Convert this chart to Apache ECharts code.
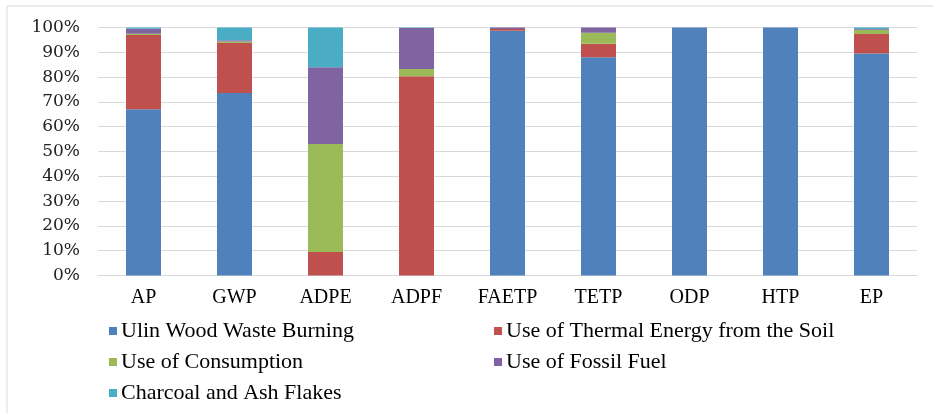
<!DOCTYPE html>
<html><head><meta charset="utf-8">
<script src="https://cdn.jsdelivr.net/npm/echarts@6/dist/echarts.min.js"></script>
<style>html,body{margin:0;padding:0;background:#fff}#c{width:933px;height:413px}</style>
</head><body><div id="c"></div>
<script>
const categories = ['AP','GWP','ADPE','ADPF','FAETP','TETP','ODP','HTP','EP'];
const seriesNames = ['Ulin Wood Waste Burning','Use of Thermal Energy from the Soil','Use of Consumption','Use of Fossil Fuel','Charcoal and Ash Flakes'];
const ulinWood = [67, 73.6, 0, 0, 98.7, 88, 100, 100, 89.5];
const thermalSoil = [30, 20.2, 9.5, 80.3, 0.7, 5.4, 0, 0, 7.9];
const consumption = [0.5, 0.6, 43.5, 3, 0, 4.5, 0, 0, 1.7];
const fossilFuel = [2, 0.5, 31, 16.5, 0.6, 2.1, 0, 0, 0.3];
const charcoalAsh = [0.5, 5.1, 16, 0.2, 0, 0, 0, 0, 0.6];
const yTicks = [0,10,20,30,40,50,60,70,80,90,100];
const colors = ['#4F81BD','#C0504D','#9BBB59','#8064A2','#4BACC6'];
const values = [ulinWood, thermalSoil, consumption, fossilFuel, charcoalAsh];

const chart = echarts.init(document.getElementById('c'));
const serif = 'Liberation Serif';
const legendText = {fontFamily:serif, fontSize:22, color:'#000', padding:[0,0,0,-1]};
chart.setOption({
  animation:false,
  color: colors,
  graphic:[{type:'rect', shape:{x:7,y:6,width:940,height:420}, style:{fill:'none', stroke:'#d9d9d9', lineWidth:1}, silent:true}],
  grid:{left:98, right:16, top:27.5, bottom:137.5},
  legend:[
    {left:104, top:315, orient:'vertical', itemGap:9, itemWidth:8, itemHeight:8, icon:'rect',
     textStyle:legendText, data:[seriesNames[0], seriesNames[2], seriesNames[4]]},
    {left:489, top:315, orient:'vertical', itemGap:9, itemWidth:8, itemHeight:8, icon:'rect',
     textStyle:legendText, data:[seriesNames[1], seriesNames[3]]}
  ],
  xAxis:{type:'category', data:categories,
    axisLine:{show:true, lineStyle:{color:'#d9d9d9'}}, axisTick:{show:false},
    axisLabel:{fontFamily:serif, fontSize:20, color:'#000', margin:12}},
  yAxis:{type:'value', min:yTicks[0], max:yTicks[yTicks.length-1], interval:10,
    axisLine:{show:false}, axisTick:{show:false},
    splitLine:{lineStyle:{color:'#d9d9d9'}},
    axisLabel:{fontFamily:'DejaVu Serif', fontSize:17, color:'#222', margin:18, formatter:v=>v+'%'}},
  series: seriesNames.map((n,i)=>({name:n, type:'bar', stack:'s', barWidth:35, data:values[i], itemStyle:{color:colors[i]}}))
});
</script></body></html>
